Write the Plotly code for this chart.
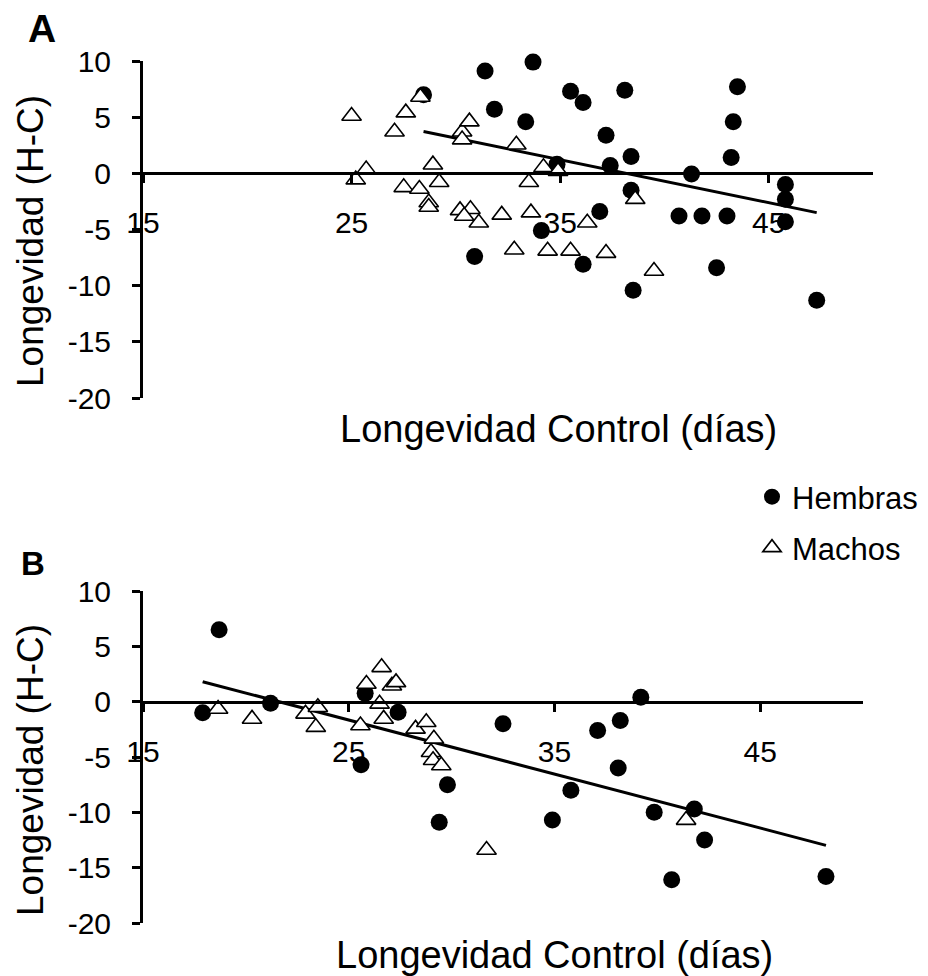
import plotly.graph_objects as go

W, H = 928, 976
FONT = "Liberation Sans, Arial, Helvetica, sans-serif"

# ---------------- data: panel A ----------------
a_hem_x = [28.45, 31.4, 33.7, 31.85, 33.35, 35.5, 36.1, 38.1, 43.5, 43.3, 37.2, 38.4,
           37.4, 43.2, 34.85, 41.3, 38.4, 45.8, 45.8, 45.8, 36.9, 40.7, 41.8, 43.0,
           34.1, 30.9, 36.1, 42.5, 38.5, 47.3]
a_hem_y = [7.0, 9.1, 9.9, 5.7, 4.6, 7.3, 6.3, 7.4, 7.7, 4.6, 3.4, 1.5,
           0.7, 1.4, 0.8, -0.06, -1.5, -1.0, -2.3, -4.3, -3.4, -3.8, -3.8, -3.8,
           -5.1, -7.4, -8.1, -8.4, -10.4, -11.3]
a_mac_x = [25.0, 25.2, 25.7, 27.06, 27.6, 28.3, 27.5, 28.25, 28.7, 28.7, 28.9, 29.2,
           30.2, 30.3, 30.3, 30.65, 30.7, 30.4, 31.1, 32.2, 32.9, 32.8, 33.5, 33.6,
           34.2, 34.4, 34.9, 35.5, 36.3, 37.2, 38.6, 39.5]
a_mac_y = [5.1, -0.56, 0.33, 3.7, 5.4, 6.8, -1.25, -1.4, -2.6, -3.0, 0.77, -0.8,
           -3.3, 3.7, 3.0, 4.6, -3.2, -3.8, -4.4, -3.7, 2.55, -6.8, -0.8, -3.5,
           0.53, -6.9, 0.18, -6.9, -4.4, -7.1, -2.3, -8.7]
a_trend = (14.62, -0.383)   # intercept, slope (Hembras fit, as drawn)

# ---------------- data: panel B ----------------
b_hem_x = [17.9, 18.7, 21.2, 25.8, 27.4, 25.6, 29.8, 29.4, 32.5, 37.1, 38.2, 39.2,
           38.1, 35.8, 34.9, 39.85, 41.8, 42.3, 40.7, 48.2]
b_hem_y = [-1.0, 6.5, -0.15, 0.75, -0.96, -5.7, -7.5, -10.9, -2.0, -2.6, -1.7, 0.4,
           -6.0, -8.0, -10.7, -10.0, -9.7, -12.5, -16.1, -15.8]
b_mac_x = [18.65, 20.3, 22.9, 23.5, 23.4, 25.57, 25.86, 26.6, 26.5, 27.1, 27.3, 26.7,
           28.25, 28.77, 29.14, 29.0, 29.1, 29.5, 31.7, 41.4]
b_mac_y = [-0.66, -1.56, -1.1, -0.5, -2.3, -2.16, 1.6, 3.1, -0.2, 1.44, 1.74, -1.56,
           -2.46, -1.86, -3.36, -4.57, -5.3, -5.77, -13.4, -10.7]
b_trend = (10.54, -0.488)

# ---------------- axes / labels ----------------
x_range = [15, 50]
y_range = [-20, 10]
x_tickvals = [15, 25, 35, 45]
x_ticktext = ["15", "25", "35", "45"]
y_tickvals = [-20, -15, -10, -5, 0, 5, 10]
y_ticktext = ["-20", "-15", "-10", "-5", "0", "5", "10"]
series_names = ["Hembras", "Machos"]
x_title = "Longevidad Control (días)"
y_title = "Longevidad (H-C)"


def px_x(p):
    return p / W


def px_y(p):
    return (H - p) / H


# plot areas in pixels: (left, right, top, bottom)
areas = [(143, 873, 61, 398), (143, 863, 591, 923)]

fig = go.Figure()
datasets = [(a_hem_x, a_hem_y, a_mac_x, a_mac_y, a_trend),
            (b_hem_x, b_hem_y, b_mac_x, b_mac_y, b_trend)]

for i, (hx, hy, mx, my, tr) in enumerate(datasets):
    xa = "x" if i == 0 else "x2"
    ya = "y" if i == 0 else "y2"
    lx = [min(hx), max(hx)]
    ly = [tr[0] + tr[1] * v for v in lx]
    fig.add_trace(go.Scatter(x=lx, y=ly, mode="lines", line=dict(color="black", width=3),
                             showlegend=False, xaxis=xa, yaxis=ya, hoverinfo="skip"))
    fig.add_trace(go.Scatter(x=hx, y=hy, mode="markers", name=series_names[0],
                             marker=dict(symbol="circle", size=17, color="black"),
                             showlegend=(i == 0), legend="legend",
                             xaxis=xa, yaxis=ya, cliponaxis=False))
    fig.add_trace(go.Scatter(x=mx, y=my, mode="markers", name=series_names[1],
                             marker=dict(symbol="triangle-up", size=17, color="white",
                                         line=dict(color="black", width=1.6)),
                             showlegend=(i == 0), legend="legend2",
                             xaxis=xa, yaxis=ya, cliponaxis=False))

layout_axes = {}
for i, (l, r, t, b) in enumerate(areas):
    sfx = "" if i == 0 else "2"
    yd = [px_y(b), px_y(t)]
    zero_pos = yd[0] + (0 - y_range[0]) / (y_range[1] - y_range[0]) * (yd[1] - yd[0])
    layout_axes["xaxis" + sfx] = dict(
        domain=[px_x(l), px_x(r)], range=x_range, anchor="free", position=zero_pos,
        automargin=False,
        showline=True, linecolor="black", linewidth=3, showgrid=False, zeroline=False,
        ticks="outside", ticklen=8, tickwidth=3, tickcolor="black",
        tickvals=x_tickvals, ticktext=x_ticktext, ticklabelstandoff=14,
        tickfont=dict(family=FONT, size=30, color="black"))
    layout_axes["yaxis" + sfx] = dict(
        domain=yd, range=y_range, anchor="x" + sfx, automargin=False,
        showline=True, linecolor="black", linewidth=3, showgrid=False, zeroline=False,
        ticks="outside", ticklen=8, tickwidth=3, tickcolor="black",
        tickvals=y_tickvals, ticktext=y_ticktext, ticklabelstandoff=15,
        tickfont=dict(family=FONT, size=30, color="black"))

annotations = [
    dict(text="<b>A</b>", x=px_x(42), y=px_y(29), font=dict(family=FONT, size=39, color="black")),
    dict(text="<b>B</b>", x=px_x(33), y=px_y(563), font=dict(family=FONT, size=33, color="black")),
    dict(text=x_title, x=px_x(558), y=px_y(429), font=dict(family=FONT, size=38, color="black")),
    dict(text=x_title, x=px_x(554), y=px_y(955), font=dict(family=FONT, size=38, color="black")),
    dict(text=y_title, x=px_x(30), y=px_y(241), textangle=-90, font=dict(family=FONT, size=37, color="black")),
    dict(text=y_title, x=px_x(30), y=px_y(770), textangle=-90, font=dict(family=FONT, size=37, color="black")),
]
for a in annotations:
    a.update(xref="paper", yref="paper", showarrow=False, xanchor="center", yanchor="middle")

fig.update_layout(
    width=W, height=H, margin=dict(l=0, r=0, t=0, b=0, autoexpand=False),
    paper_bgcolor="white", plot_bgcolor="white",
    font=dict(family=FONT, color="black"),
    annotations=annotations,
    legend=dict(x=px_x(752), y=px_y(497), xanchor="left", yanchor="middle",
                font=dict(family=FONT, size=31, color="black"), itemsizing="trace",
                bgcolor="rgba(0,0,0,0)", borderwidth=0),
    legend2=dict(x=px_x(752), y=px_y(548), xanchor="left", yanchor="middle",
                 font=dict(family=FONT, size=31, color="black"), itemsizing="trace",
                 bgcolor="rgba(0,0,0,0)", borderwidth=0),
    **layout_axes,
)

fig.write_html("out.html")
